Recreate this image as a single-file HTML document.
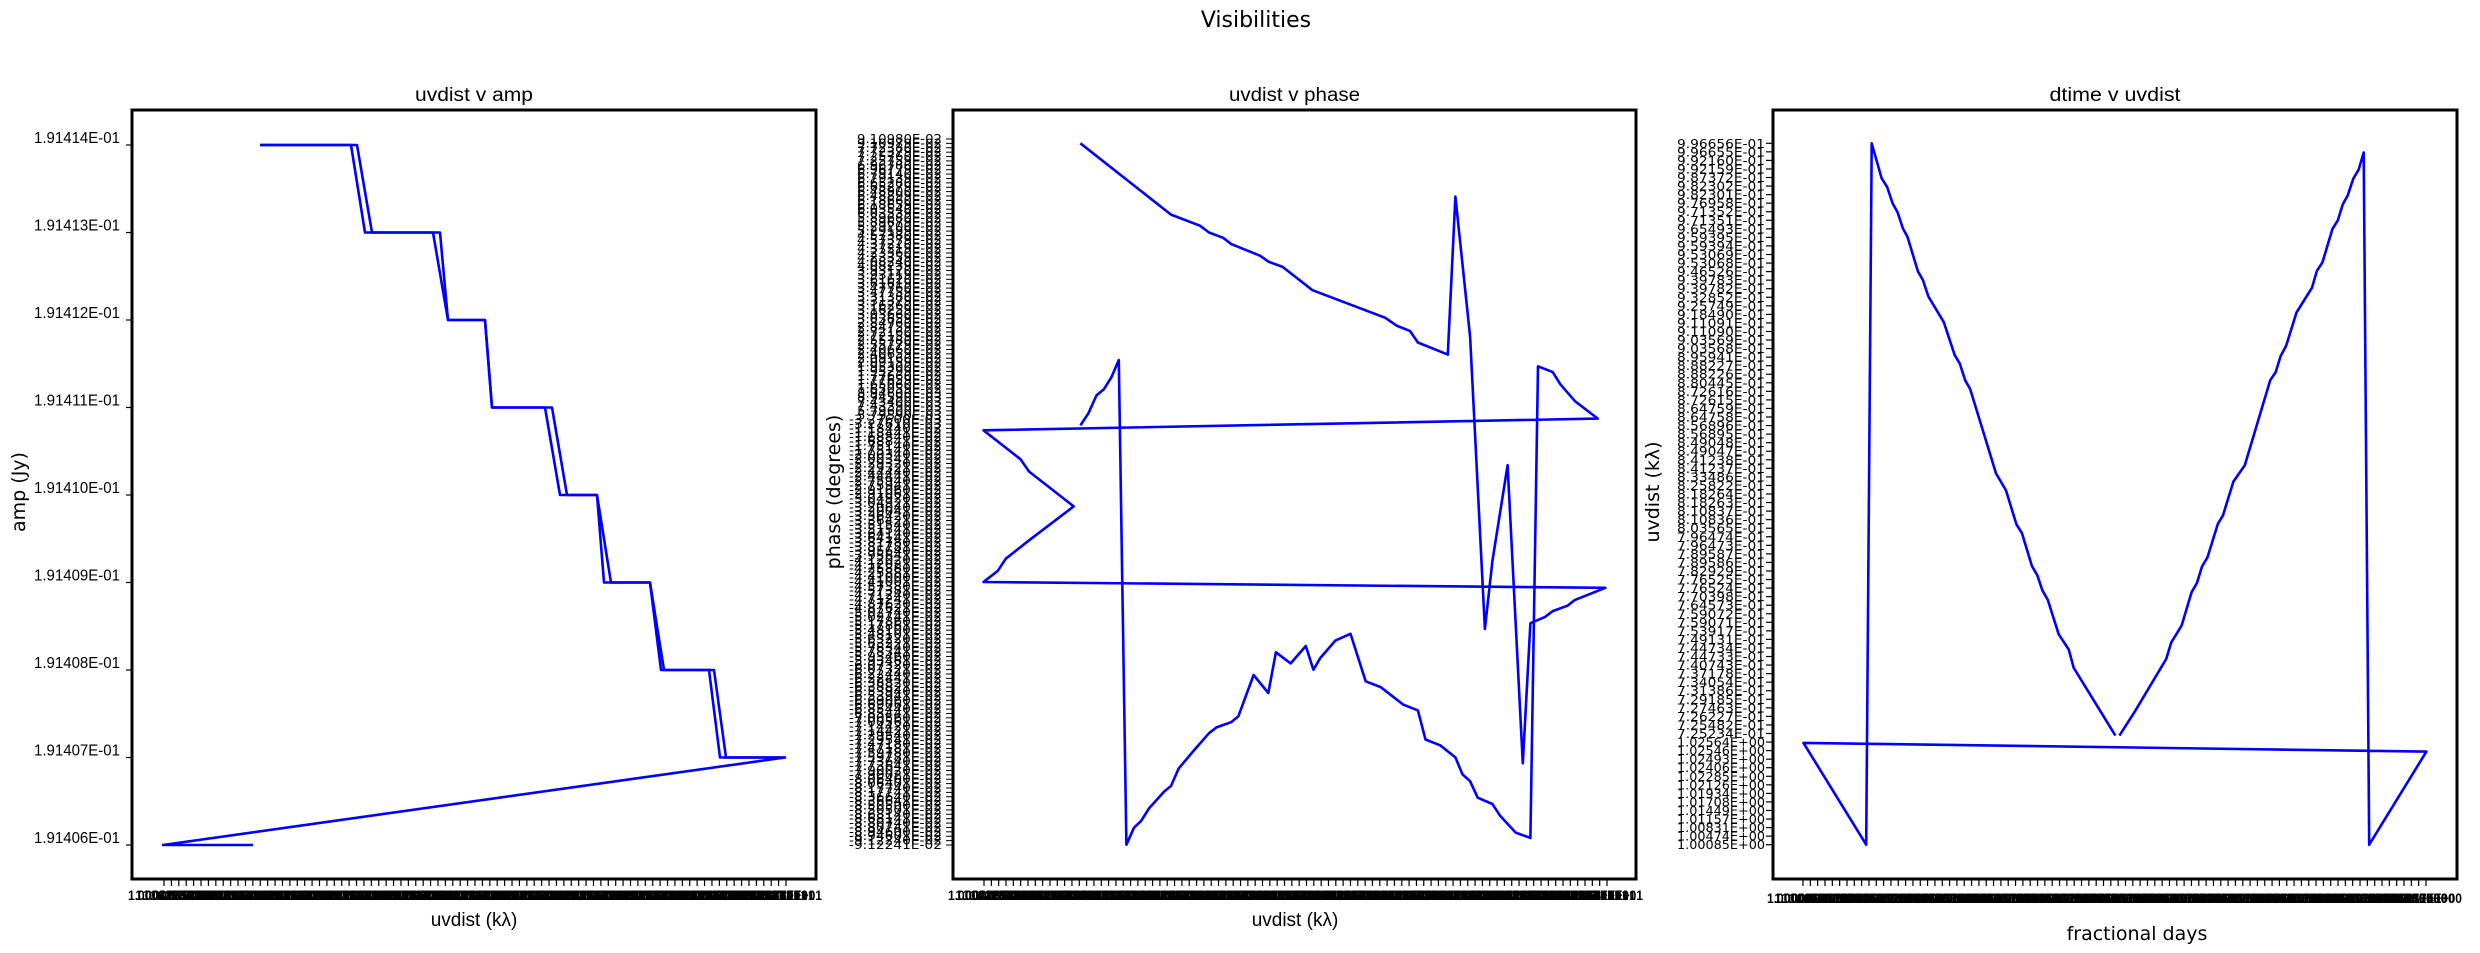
<!DOCTYPE html>
<html><head><meta charset="utf-8"><title>Visibilities</title>
<style>
html,body{margin:0;padding:0;background:#fff;}
svg{display:block;}
</style></head>
<body>
<svg id="fig" xmlns="http://www.w3.org/2000/svg" width="2480" height="953" viewBox="0 0 2480 953">
<rect x="0" y="0" width="2480" height="953" fill="#fff"/>
<text x="1256" y="27" text-anchor="middle" font-family="DejaVu Sans, Liberation Sans, sans-serif" font-size="22">Visibilities</text>
<g id="p1"></g>
<g id="p2"></g>
<g id="p3"></g>
</svg>
<script>
// ---------- Panel 1 data: uvdist v amp ----------
const ampUvA = [128,219,233,301,316,353,360,413,428,465,472,518,529,577,588,653,31,121];
const ampValA = [0.191414,0.191414,0.191413,0.191413,0.191412,0.191412,0.191411,0.191411,0.191410,0.191410,0.191409,0.191409,0.191408,0.191408,0.191407,0.191407,0.191406,0.191406];
const ampUvB = [128,225,240,308,316,353,360,420,435,465,479,518,532,582,594,653];
const ampValB = [0.191414,0.191414,0.191413,0.191413,0.191412,0.191412,0.191411,0.191411,0.191410,0.191410,0.191409,0.191409,0.191408,0.191408,0.191407,0.191407];
const ampTicks = [0.191414,0.191413,0.191412,0.191411,0.191410,0.191409,0.191408,0.191407,0.191406];
const ampTickLabels = ["1.91414E-01","1.91413E-01","1.91412E-01","1.91411E-01","1.91410E-01","1.91409E-01","1.91408E-01","1.91407E-01","1.91406E-01"];
const uvTickLabels = ["1.00003E+01","1.00487E+01","1.01268E+01","1.02354E+01","1.03739E+01","1.05418E+01","1.07384E+01","1.09628E+01"];

// ---------- Panel 2 data: uvdist v phase (phase in 1e-4 deg) ----------
const phUv = [29.2,49.5,56.0,58.0,61.2,63.0,69.5,71.3,74.5,81.2,97.5,100.0,103.0,104.8,111.5,113.2,116.5,119.8,121.5,124.9,128.3,130.0,133.3,135.0,138.3,140.0,146.8,7.5,10.7,12.5,18.0,27.7,17.7,15.8,7.5,145.1,140.0,136.7,135.0,131.7,130.0,126.7,123.2,121.5,118.2,116.5,114.8,113.2,109.8,106.5,104.8,101.5,96.5,93.1,89.7,86.3,83.0,81.4,79.7,76.3,73.0,71.3,68.0,64.6,63.0,59.7,58.0,54.5,51.2,49.5,48.0,44.6,42.8,41.2,39.5,37.8,36.2,34.5,32.8,31.0,29.2];
const phVal = [723,576,553,539,528,515,491,479,468,420,363,347,336,312,287,613,324,-279,-139,59,-556,-267,-254,-242,-231,-219,-194,-182,-159,-134,-94,-26,46,71,131,155,191,226,251,263,-710,-699,-664,-640,-627,-593,-579,-544,-519,-507,-447,-435,-399,-387,-289,-303,-338,-363,-314,-350,-327,-411,-374,-459,-471,-482,-494,-531,-567,-603,-614,-649,-675,-689,-724,276,241,216,203,166,141];

// ---------- Panel 3 data: dtime v uvdist ----------
const dtVal = [84.3,87.4,93.7,94.7,96.8,98.8,99.9,100.9,102.0,104.1,105.1,107.2,109.5,114.6,115.7,116.7,117.8,119.9,123.0,124.0,125.1,127.1,128.2,129.2,130.2,131.3,132.4,133.4,134.5,146.0,20.8,33.4,34.5,36.5,37.6,38.7,39.7,40.8,41.7,43.8,44.8,45.9,49.0,51.2,52.2,53.3,54.3,59.5,61.5,63.6,64.7,66.7,67.8,68.8,69.9,72.1,74.1,75.1,83.5];
const uvVal = [273,323,431,465,500,569,588,622,641,710,727,797,831,1006,1023,1056,1077,1146,1197,1232,1249,1318,1336,1369,1388,1422,1441,1476,48,240,258,48,1495,1423,1405,1371,1353,1319,1302,1231,1213,1179,1126,1058,1041,1006,988,814,779,709,691,623,604,573,553,482,451,413,273];
const uvTickLabels3 = ["9.96656E-01","9.96655E-01","9.92160E-01","9.92159E-01","9.87372E-01","9.82302E-01","9.82301E-01","9.76958E-01","9.71352E-01","9.71351E-01","9.65493E-01","9.59395E-01","9.59394E-01","9.53069E-01","9.53068E-01","9.46526E-01","9.39783E-01","9.39782E-01","9.32852E-01","9.25749E-01","9.18490E-01","9.11091E-01","9.11090E-01","9.03569E-01","9.03568E-01","8.95941E-01","8.88227E-01","8.88226E-01","8.80445E-01","8.72616E-01","8.72615E-01","8.64759E-01","8.64758E-01","8.56896E-01","8.56895E-01","8.49048E-01","8.49047E-01","8.41238E-01","8.41237E-01","8.33486E-01","8.25822E-01","8.18264E-01","8.18263E-01","8.10837E-01","8.10836E-01","8.03565E-01","7.96474E-01","7.96473E-01","7.89587E-01","7.89586E-01","7.82929E-01","7.76525E-01","7.76524E-01","7.70398E-01","7.64573E-01","7.59072E-01","7.59071E-01","7.53917E-01","7.49131E-01","7.44734E-01","7.44733E-01","7.40743E-01","7.37178E-01","7.34054E-01","7.31386E-01","7.29185E-01","7.27463E-01","7.26227E-01","7.25482E-01","7.25234E-01","1.02564E+00","1.02546E+00","1.02493E+00","1.02406E+00","1.02285E+00","1.02126E+00","1.01934E+00","1.01708E+00","1.01449E+00","1.01157E+00","1.00831E+00","1.00474E+00","1.00085E+00"];
const dtTickLabels = ["1.00000E+00","1.00035E+00","1.00069E+00","1.00104E+00","1.00139E+00","1.00174E+00","1.00208E+00","1.00243E+00"];

const NS = "http://www.w3.org/2000/svg";
function mk(parent, tag, attrs, txt){
  const e = document.createElementNS(NS, tag);
  for (const k in attrs) e.setAttribute(k, attrs[k]);
  if (txt !== undefined) e.textContent = txt;
  parent.appendChild(e);
  return e;
}
function lin(d0,d1,r0,r1){ return v => r0 + (v-d0)*(r1-r0)/(d1-d0); }

const TOP = 110, BOT = 879;
const NARROW = "'Liberation Sans Narrow', 'Liberation Sans', sans-serif";
const DEJA = "'DejaVu Sans', 'Liberation Sans', sans-serif";

function frame(g, x0, x1, title, tw){
  const r = mk(g,'rect',{x:x0,y:TOP,width:x1-x0,height:BOT-TOP,fill:'none',stroke:'#000','stroke-width':3});
  
  
  const t = mk(g,'text',{x:(x0+x1)/2,y:101,'text-anchor':'middle','font-family':NARROW,'font-size':19,textLength:tw,lengthAdjust:'spacingAndGlyphs'}, title);
  
  
}
function poly(g, xs, ys, sx, sy, name){
  const pts = xs.map((x,i)=> sx(x).toFixed(1)+','+sy(ys[i]).toFixed(1)).join(' ');
  const p = mk(g,'polyline',{points:pts,fill:'none',stroke:'#0000ff','stroke-width':2.6,'stroke-linejoin':'round'});
  
  
}
function xTickBand(g, x0, x1, n, labels, labelY, name){
  const gg = mk(g,'g',{});
  
  
  for (let i=0;i<n;i++){
    const x = x0 + i*(x1-x0)/(n-1);
    mk(gg,'line',{x1:x,y1:BOT+1,x2:x,y2:BOT+7,stroke:'#000','stroke-width':1.2});
    mk(gg,'text',{x:x,y:labelY,'text-anchor':'middle','font-family':NARROW,'font-size':14,'font-weight':'bold',textLength:72,lengthAdjust:'spacingAndGlyphs'}, labels[i%labels.length]);
  }
}
function yLabel(g, x, txt, name){
  const t = mk(g,'text',{x:x,y:492,'text-anchor':'middle','font-family':DEJA,'font-size':19,transform:'rotate(-90 '+x+' 492)'}, txt);
  
  
}
function xLabel(g, x, y, txt, font, name){
  const t = mk(g,'text',{x:x,y:y,'text-anchor':'middle','font-family':font,'font-size':19}, txt);
  
  
}

// ----- Panel 1 -----
(function(){
  const g = document.getElementById('p1');
  const x0=132, x1=816;
  const sx = lin(0,684,x0,x1), sy = lin(0.191406,0.191414,845,145);
  frame(g,x0,x1,'uvdist v amp',118);
  const yt = mk(g,'g',{});
  
  
  ampTicks.forEach((v,i)=>{
    const y = sy(v);
    mk(yt,'line',{x1:x0-6,y1:y,x2:x0,y2:y,stroke:'#000','stroke-width':1.2});
    mk(yt,'text',{x:120,y:y-2,'text-anchor':'end','font-family':NARROW,'font-size':16,textLength:86,lengthAdjust:'spacingAndGlyphs'}, ampTickLabels[i]);
  });
  xTickBand(g,164,786,85,uvTickLabels,900,'amp-x-ticks');
  poly(g,ampUvB,ampValB,sx,sy,'amp-line-b');
  poly(g,ampUvA,ampValA,sx,sy,'amp-line-a');
  xLabel(g,474,926,'uvdist (kλ)',NARROW,'amp-x-axis-title');
  yLabel(g,25,'amp (Jy)','amp-y-axis-title');
})();

// ----- Panel 2 -----
(function(){
  const g = document.getElementById('p2');
  const x0=953, x1=1636;
  const sx = lin(7.5,146.8,983.5,1605.4), sy = lin(-724,723,844.7,143.3);
  frame(g,x0,x1,'uvdist v phase',131);
  const sorted = phVal.slice().sort((a,b)=>b-a);
  const labs = [];
  sorted.forEach(v=>{ labs.push(v*1.26e-4); labs.push(v*1.26e-4 - 1e-7); });
  const yt = mk(g,'g',{});
  
  
  const n = labs.length;
  labs.forEach((v,i)=>{
    const y = 139 + i*(845-139)/(n-1);
    mk(yt,'line',{x1:x0-7,y1:y,x2:x0,y2:y,stroke:'#000','stroke-width':1});
    const s = v.toExponential(5).toUpperCase().replace(/E([+-])(\d)$/,'E$10$2');
    mk(yt,'text',{x:942,y:y+4,'text-anchor':'end','font-family':DEJA,'font-size':12,textLength:(s[0]==='-'?93:85),lengthAdjust:'spacingAndGlyphs'}, s);
  });
  xTickBand(g,984,1607,86,uvTickLabels,900,'phase-x-ticks');
  poly(g,phUv,phVal,sx,sy,'phase-line');
  xLabel(g,1295,926,'uvdist (kλ)',NARROW,'phase-x-axis-title');
  yLabel(g,840,'phase (degrees)','phase-y-axis-title');
})();

// ----- Panel 3 -----
(function(){
  const g = document.getElementById('p3');
  const x0=1773, x1=2457;
  const sx = lin(20.8,146.0,1803.5,2426.4), sy = lin(48,1495,844.7,143.3);
  frame(g,x0,x1,'dtime v uvdist',131);
  const yt = mk(g,'g',{});
  
  
  const n = uvTickLabels3.length;
  uvTickLabels3.forEach((s,i)=>{
    const y = 143.3 + i*(844.7-143.3)/(n-1);
    mk(yt,'line',{x1:x0-7,y1:y,x2:x0,y2:y,stroke:'#000','stroke-width':1.2});
    mk(yt,'text',{x:1765,y:y+4.5,'text-anchor':'end','font-family':DEJA,'font-size':12,textLength:88,lengthAdjust:'spacingAndGlyphs'}, s);
  });
  xTickBand(g,1803,2426,86,dtTickLabels,903,'dtime-x-ticks');
  poly(g,dtVal,uvVal,sx,sy,'uvdist-line');
  xLabel(g,2137,940,'fractional days',DEJA,'dtime-x-axis-title');
  yLabel(g,1659,'uvdist (kλ)','uvdist-y-axis-title');
})();
</script>
</body></html>
